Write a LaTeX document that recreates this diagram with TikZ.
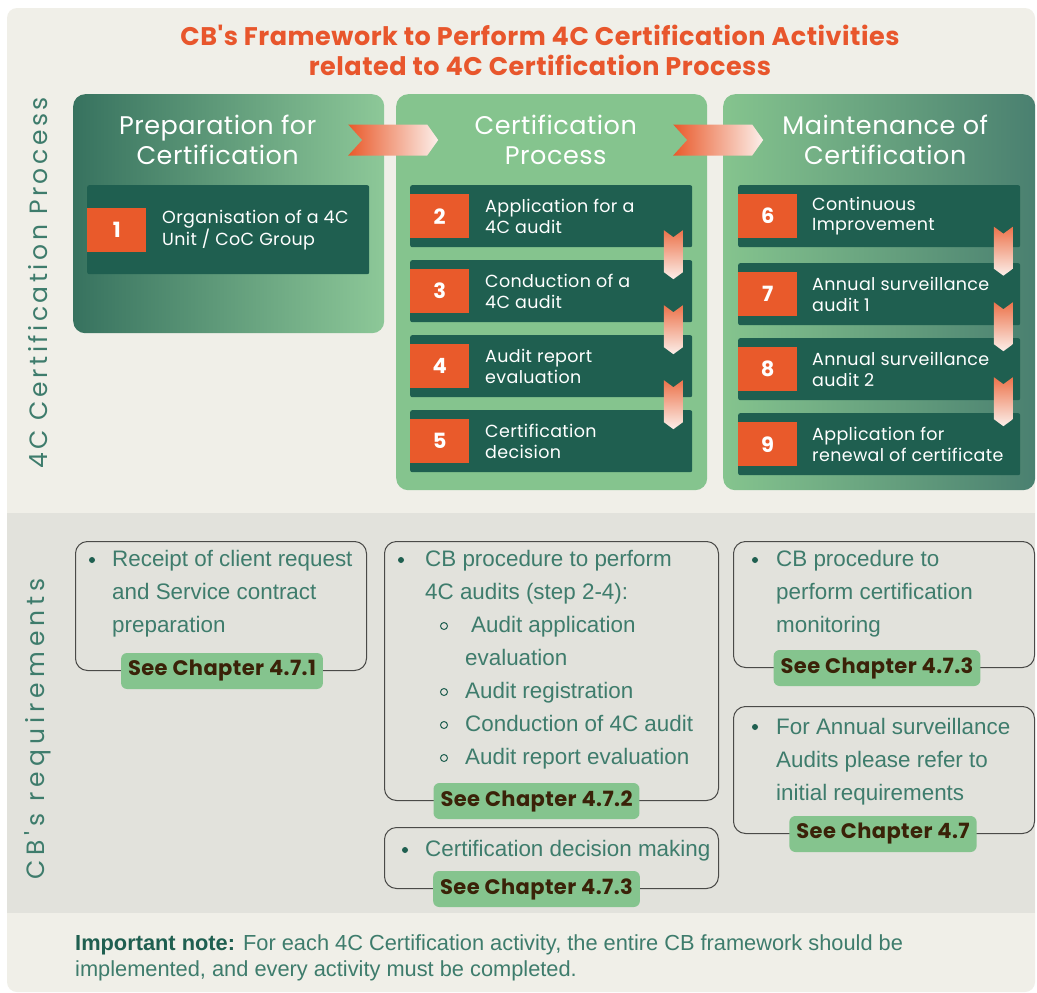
\documentclass[tikz,border=0pt]{standalone}
\usepackage{fontspec}
\setmainfont{Liberation Sans}
\newfontfamily\popfont{Poppins}
\newfontfamily\widepop[LetterSpace=2]{Poppins}
\newfontfamily\spacedfont[LetterSpace=14]{Poppins}
\newfontfamily\widerfont[LetterSpace=20]{Poppins}
\usetikzlibrary{calc}

\definecolor{pagebg}{HTML}{F0EFE8}
\definecolor{bandbg}{HTML}{E2E2DC}
\definecolor{leaf}{HTML}{85C48E}
\definecolor{leaflight}{HTML}{8DC898}
\definecolor{forest}{HTML}{1F5F50}
\definecolor{pine}{HTML}{37725F}
\definecolor{pineright}{HTML}{4A8070}
\definecolor{ember}{HTML}{E95A2B}
\definecolor{emberfade}{HTML}{FCEFEA}
\definecolor{titleorange}{HTML}{E8562C}
\definecolor{tealtext}{HTML}{3E7C6C}
\definecolor{bark}{HTML}{3A2208}
\definecolor{framegray}{HTML}{4A4A48}

% horizontal chevron centred on a coordinate
\newcommand\hchev[1]{%
  \begin{scope}[shift={(#1)}]
    \shade[left color=ember, middle color=ember!70!emberfade, right color=emberfade]
      (-45,-15.5) -- (34,-15.5) -- (45,0) -- (34,15.5) -- (-45,15.5) -- (-31,0) -- cycle;
  \end{scope}}
% vertical chevron centred on a coordinate
\newcommand\vchev[1]{%
  \begin{scope}[shift={(#1)}]
    \shade[top color=ember!85!white, bottom color=emberfade]
      (-9.5,-24.5) -- (0,-17.5) -- (9.5,-24.5) -- (9.5,17.5) -- (0,24.5) -- (-9.5,17.5) -- cycle;
  \end{scope}}

\begin{document}
\begin{tikzpicture}[x=1pt,y=-1pt,
  panel/.style={rounded corners=12pt, inner sep=0pt, minimum width=311pt, anchor=north west},
  panelhead/.style={font=\widepop\fontsize{25.5}{30}\selectfont, text=white, align=center, inner sep=0pt},
  stepbox/.style={fill=forest, rounded corners=2pt, inner sep=0pt, minimum width=282pt, minimum height=62pt, anchor=north west},
  numbox/.style={fill=ember, inner sep=0pt, minimum width=59pt, minimum height=44pt, anchor=west,
    font=\popfont\bfseries\fontsize{21}{21}\selectfont, text=white},
  steptext/.style={anchor=west, align=left, inner sep=0pt, text=white, font=\widepop\fontsize{17.5}{20.5}\selectfont},
  reqbox/.style={draw=framegray, line width=1pt, rounded corners=12pt, inner sep=0pt, anchor=north west},
  pill/.style={fill=leaf, rounded corners=6pt, inner xsep=7pt, inner ysep=0pt, minimum height=36pt,
    text=bark, font=\widepop\bfseries\fontsize{21}{21}\selectfont},
  reqtext/.style={anchor=base west, inner sep=0pt, text=tealtext, font=\fontsize{22.4}{33}\selectfont},
  dot/.style={circle, fill=forest, inner sep=0pt, minimum size=6pt},
  ring/.style={circle, draw=forest, line width=1pt, inner sep=0pt, minimum size=7pt},
  sidelabel/.style={rotate=90, inner sep=0pt, text=tealtext, font=\spacedfont\fontsize{25}{25}\selectfont}
]
\useasboundingbox (0,0) rectangle (1037,993);
\fill[white] (0,0) rectangle (1037,993);

% backgrounds
\fill[pagebg, rounded corners=10pt] (7,8) rectangle (1035,992);
\fill[bandbg] (7,513) rectangle (1035,913);

% title
\node[font=\widepop\bfseries\fontsize{25.5}{30}\selectfont, text=titleorange, align=center] (title) at (540,50)
  {CB's Framework to Perform 4C Certification Activities\\related to 4C Certification Process};

% side labels
\node[sidelabel] (lblproc) at (38,283) {4C Certification Process};
\node[sidelabel, font=\widerfont\fontsize{25}{25}\selectfont] (lblreq) at (38,729) {CB's requirements};

% phase panels
\node[panel, minimum height=239pt, left color=pine, right color=leaflight] (p1) at (73,94) {};
\node[panel, minimum height=396pt, fill=leaf] (p2) at (396,94) {};
\node[panel, minimum width=312pt, minimum height=396pt, left color=leaf, right color=pineright] (p3) at (723,94) {};

\node[panelhead] (h1) at ($(p1.north)+(-11,46)$) {Preparation for\\Certification};
\node[panelhead] (h2) at ($(p2.north)+(4,46)$) {Certification\\Process};
\node[panelhead] (h3) at ($(p3.north)+(6,46)$) {Maintenance of\\Certification};

% chevrons between phases
\coordinate (a12) at ($(p1.north east)!0.5!(p2.north west)+(3,46)$);
\coordinate (a23) at ($(p2.north east)!0.5!(p3.north west)+(3,46)$);
\hchev{a12}
\hchev{a23}

% steps
\node[stepbox, minimum height=89pt] (s1) at (87,185) {};
\node[stepbox] (s2) at (410,185) {};
\node[stepbox] (s3) at (410,260) {};
\node[stepbox] (s4) at (410,335) {};
\node[stepbox] (s5) at (410,410) {};
\node[stepbox] (s6) at (738,185) {};
\node[stepbox] (s7) at (738,263) {};
\node[stepbox] (s8) at (738,338) {};
\node[stepbox] (s9) at (738,413) {};

\foreach \i in {1,...,9} {
  \node[numbox] (n\i) at (s\i.west) {\i};
}

\node[steptext] (t1) at ($(s1.west)+(75,0)$) {Organisation of a 4C\\Unit / CoC Group};
\node[steptext] (t2) at ($(s2.west)+(75,0)$) {Application for a\\4C audit};
\node[steptext] (t3) at ($(s3.west)+(75,0)$) {Conduction of a\\4C audit};
\node[steptext] (t4) at ($(s4.west)+(75,0)$) {Audit report\\evaluation};
\node[steptext] (t5) at ($(s5.west)+(75,0)$) {Certification\\decision};
\node[steptext] (t6) at ($(s6.west)+(74,0)$) {Continuous\\Improvement};
\node[steptext] (t7) at ($(s7.west)+(74,0)$) {Annual surveillance\\audit 1};
\node[steptext] (t8) at ($(s8.west)+(74,0)$) {Annual surveillance\\audit 2};
\node[steptext] (t9) at ($(s9.west)+(74,0)$) {Application for\\renewal of certificate};

% flow between steps
\coordinate (d23) at ($(s2.south east)!0.5!(s3.north east)+(-19,1)$);
\coordinate (d34) at ($(s3.south east)!0.5!(s4.north east)+(-19,1)$);
\coordinate (d45) at ($(s4.south east)!0.5!(s5.north east)+(-19,1)$);
\coordinate (d67) at ($(s6.south east)!0.5!(s7.north east)+(-17,-4)$);
\coordinate (d78) at ($(s7.south east)!0.5!(s8.north east)+(-17,-5)$);
\coordinate (d89) at ($(s8.south east)!0.5!(s9.north east)+(-17,-5)$);
\foreach \c in {d23,d34,d45,d67,d78,d89} { \vchev{\c} }

% requirement boxes
\node[reqbox, minimum width=291pt, minimum height=129pt] (rA) at (75,541) {};
\node[reqbox, minimum width=334pt, minimum height=259pt] (rB) at (384,541) {};
\node[reqbox, minimum width=334pt, minimum height=61pt] (rC) at (384,827) {};
\node[reqbox, minimum width=301pt, minimum height=126pt] (rD) at (733,541) {};
\node[reqbox, minimum width=301pt, minimum height=127pt] (rE) at (733,706) {};

% box A
\node[dot] (bA) at ($(rA.north west)+(17,19)$) {};
\node[reqtext] (tA1) at ($(rA.north west)+(37,25)$) {Receipt of client request};
\node[reqtext] (tA2) at ($(tA1.base west)+(0,33)$) {and Service contract};
\node[reqtext] (tA3) at ($(tA2.base west)+(0,33)$) {preparation};

% box B
\node[dot] (bB) at ($(rB.north west)+(17,19)$) {};
\node[reqtext] (tB1) at ($(rB.north west)+(41,25)$) {CB procedure to perform};
\node[reqtext] (tB2) at ($(tB1.base west)+(0,33)$) {4C audits (step 2-4):};
\node[reqtext] (tB3) at ($(tB2.base west)+(46,33)$) {Audit application};
\node[reqtext] (tB4) at ($(tB2.base west)+(40,66)$) {evaluation};
\node[reqtext] (tB5) at ($(tB2.base west)+(40,99)$) {Audit registration};
\node[reqtext] (tB6) at ($(tB2.base west)+(40,132)$) {Conduction of 4C audit};
\node[reqtext] (tB7) at ($(tB2.base west)+(40,165)$) {Audit report evaluation};
\node[ring] (cB3) at ($(tB4.base west)+(-21,-39)$) {};
\node[ring] (cB5) at ($(tB5.base west)+(-21,-6)$) {};
\node[ring] (cB6) at ($(tB6.base west)+(-21,-6)$) {};
\node[ring] (cB7) at ($(tB7.base west)+(-21,-6)$) {};

% box C
\node[dot] (bC) at ($(rC.north west)+(21,23)$) {};
\node[reqtext] (tC1) at ($(rC.north west)+(41,29)$) {Certification decision making};

% box D
\node[dot] (bD) at ($(rD.north west)+(22,19)$) {};
\node[reqtext] (tD1) at ($(rD.north west)+(43,25)$) {CB procedure to};
\node[reqtext] (tD2) at ($(tD1.base west)+(0,33)$) {perform certification};
\node[reqtext] (tD3) at ($(tD2.base west)+(0,33)$) {monitoring};

% box E
\node[dot] (bE) at ($(rE.north west)+(22,21)$) {};
\node[reqtext] (tE1) at ($(rE.north west)+(43,28)$) {For Annual surveillance};
\node[reqtext] (tE2) at ($(tE1.base west)+(0,33)$) {Audits please refer to};
\node[reqtext] (tE3) at ($(tE2.base west)+(0,33)$) {initial requirements};

% chapter references
\node[pill] (cA) at ($(rA.south)+(1,0)$) {See Chapter 4.7.1};
\node[pill] (cB) at ($(rB.south)+(-15,0)$) {See Chapter 4.7.2};
\node[pill] (cC) at ($(rC.south)+(-15,0)$) {See Chapter 4.7.3};
\node[pill] (cD) at ($(rD.south)+(-7,0)$) {See Chapter 4.7.3};
\node[pill] (cE) at ($(rE.south)+(-1,0)$) {See Chapter 4.7};

% note
\node[anchor=base west, inner sep=0pt, text=tealtext, align=left, font=\fontsize{21.8}{26}\selectfont] (note) at (75,950)
  {\textcolor{forest}{\bfseries Important note:} For each 4C Certification activity, the entire CB framework should be};
\node[anchor=base west, inner sep=0pt, text=tealtext, font=\fontsize{21.8}{26}\selectfont] (note2) at ($(note.base west)+(0,26)$)
  {implemented, and every activity must be completed.};
\end{tikzpicture}
\end{document}
